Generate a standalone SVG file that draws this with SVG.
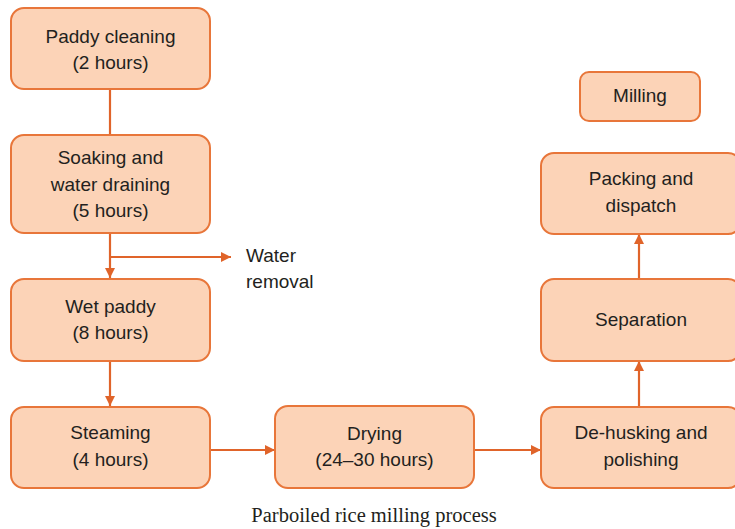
<svg xmlns="http://www.w3.org/2000/svg" width="735" height="529" viewBox="0 0 735 529">
<style>
.box{fill:#FCD3B7;stroke:#E8763A;stroke-width:2}
.t{font-family:"Liberation Sans",Arial,sans-serif;font-size:19px;fill:#231F20;text-anchor:middle}
.c{fill:none;stroke:#E0642A;stroke-width:2.2}
.cap{font-family:"Liberation Serif","Times New Roman",serif;font-size:20.5px;fill:#231F20;text-anchor:middle}
</style>
<defs>
<marker id="ah" viewBox="0 0 10 10" refX="10" refY="5" markerWidth="10" markerHeight="10" markerUnits="userSpaceOnUse" orient="auto">
<path d="M0,0 L10,5 L0,10 z" fill="#E0642A"/>
</marker>
</defs>
<rect width="735" height="529" fill="#fff"/>
<g id="connectors">
<line class="c" x1="110" y1="89" x2="110" y2="135"/>
<line class="c" x1="110" y1="233" x2="110" y2="278" marker-end="url(#ah)"/>
<line class="c" x1="110" y1="257" x2="231" y2="257" marker-end="url(#ah)"/>
<line class="c" x1="110" y1="361" x2="110" y2="406" marker-end="url(#ah)"/>
<line class="c" x1="210" y1="450" x2="275" y2="450" marker-end="url(#ah)"/>
<line class="c" x1="474" y1="450" x2="541" y2="450" marker-end="url(#ah)"/>
<line class="c" x1="639" y1="407" x2="639" y2="361" marker-end="url(#ah)"/>
<line class="c" x1="639" y1="279" x2="639" y2="234" marker-end="url(#ah)"/>
</g>
<g id="paddy-cleaning">
<rect class="box" x="11" y="8" width="199" height="81" rx="13"/>
<text class="t" x="110.5" y="43">Paddy cleaning</text>
<text class="t" x="110.5" y="69">(2 hours)</text>
</g>
<g id="soaking">
<rect class="box" x="11" y="135" width="199" height="98" rx="13"/>
<text class="t" x="110.5" y="164">Soaking and</text>
<text class="t" x="110.5" y="191">water draining</text>
<text class="t" x="110.5" y="217">(5 hours)</text>
</g>
<g id="water-removal">
<text class="t" x="246" y="262" style="text-anchor:start">Water</text>
<text class="t" x="246" y="288" style="text-anchor:start">removal</text>
</g>
<g id="wet-paddy">
<rect class="box" x="11" y="279" width="199" height="82" rx="13"/>
<text class="t" x="110.5" y="313">Wet paddy</text>
<text class="t" x="110.5" y="339">(8 hours)</text>
</g>
<g id="steaming">
<rect class="box" x="11" y="407" width="199" height="81" rx="13"/>
<text class="t" x="110.5" y="439">Steaming</text>
<text class="t" x="110.5" y="466">(4 hours)</text>
</g>
<g id="drying">
<rect class="box" x="275" y="406" width="199" height="82" rx="13"/>
<text class="t" x="374.5" y="440">Drying</text>
<text class="t" x="374.5" y="466">(24–30 hours)</text>
</g>
<g id="dehusking">
<rect class="box" x="541" y="407" width="200" height="81" rx="13"/>
<text class="t" x="641" y="439">De-husking and</text>
<text class="t" x="641" y="466">polishing</text>
</g>
<g id="separation">
<rect class="box" x="541" y="279" width="200" height="82" rx="13"/>
<text class="t" x="641" y="326">Separation</text>
</g>
<g id="packing">
<rect class="box" x="541" y="153" width="200" height="81" rx="13"/>
<text class="t" x="641" y="185">Packing and</text>
<text class="t" x="641" y="212">dispatch</text>
</g>
<g id="milling">
<rect class="box" x="580" y="72" width="120" height="49" rx="9"/>
<text class="t" x="640" y="102">Milling</text>
</g>
<text class="cap" x="374" y="522">Parboiled rice milling process</text>
</svg>
